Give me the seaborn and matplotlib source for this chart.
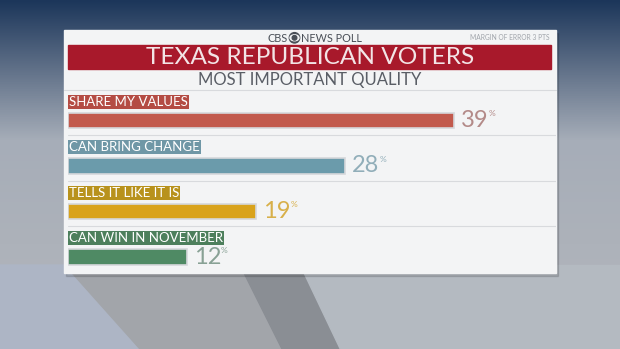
import numpy as np
import pandas as pd
import matplotlib
matplotlib.use("Agg")
import matplotlib.pyplot as plt
import seaborn as sns
from matplotlib.patches import Rectangle, Polygon, Circle, Ellipse

categories = ["SHARE MY VALUES", "CAN BRING CHANGE", "TELLS IT LIKE IT IS", "CAN WIN IN NOVEMBER"]
values = [39, 28, 19, 12]
bar_colors = ["#c25a4d", "#6b9bab", "#d9a31c", "#4f8a64"]
label_colors = ["#b44c44", "#6f97a6", "#b8921c", "#4d7f5c"]
value_colors = ["#b38a88", "#91aeb9", "#d8b04a", "#88a195"]

title = "TEXAS REPUBLICAN VOTERS"
subtitle = "MOST IMPORTANT QUALITY"
moe = "MARGIN OF ERROR 3 PTS"

W, H = 620, 349
sns.set_theme(style="white")
plt.rcParams['font.family'] = ['Lato', 'DejaVu Sans']
fig = plt.figure(figsize=(W / 100, H / 100), dpi=100)

def fx(x):
    return x / W

def fy(y):
    return 1 - y / H

# background studio gradient
bg = fig.add_axes([0, 0, 1, 1])
bg.set_xlim(0, W)
bg.set_ylim(H, 0)
bg.axis("off")
yy = np.linspace(0, 1, 200)[:, None]
top = np.array([0x1c, 0x36, 0x5a]) / 255
mid = np.array([0xa6, 0xad, 0xb8]) / 255
bot = np.array([0xb4, 0xb7, 0xbc]) / 255
t1 = np.clip(yy / 0.4, 0, 1)
t2 = np.clip((yy - 0.4) / 0.6, 0, 1)
grad = (top * (1 - t1) + mid * t1) * (yy < 0.4) + (mid * (1 - t2) + bot * t2) * (yy >= 0.4)
grad = np.repeat(grad[:, None, :], 2, axis=1).reshape(200, 2, 3)
bg.imshow(grad, extent=[0, W, H, 0], aspect="auto", zorder=0)
bg.add_patch(Polygon([[0, 265], [65, 265], [140, 349], [0, 349]], closed=True, color="#adb5c5", zorder=1))
bg.add_patch(Polygon([[65, 265], [240, 265], [282, 349], [140, 349]], closed=True, color="#a2a5aa", zorder=1))
bg.add_patch(Polygon([[240, 265], [300, 265], [340, 349], [282, 349]], closed=True, color="#8a8e94", zorder=1))
bg.add_patch(Polygon([[300, 265], [620, 265], [620, 349], [340, 349]], closed=True, color="#b4bac1", zorder=1))
bg.add_patch(Rectangle((66, 33), 492, 243, color="#000000", alpha=0.12, zorder=2))
bg.add_patch(Rectangle((64, 30), 492, 243, color="#f3f4f5", zorder=3))
bg.add_patch(Rectangle((68, 45), 483, 24, color="#a8192b", zorder=4))
bg.text(288, 38, "CBS", ha="right", va="center", fontsize=7.8, color="#4a4f57", zorder=5)
bg.add_patch(Circle((294.5, 37.8), 5.2, color="#4a4f57", zorder=5))
bg.add_patch(Ellipse((294.5, 37.8), 9, 6, color="#f3f4f5", zorder=6))
bg.add_patch(Circle((294.5, 37.8), 2.3, color="#4a4f57", zorder=7))
bg.text(301, 38, "NEWS POLL", ha="left", va="center", fontsize=7.8, color="#4a4f57", zorder=5)
bg.text(550, 38, moe, ha="right", va="center", fontsize=4.8, color="#a0a4aa", zorder=5)
bg.text(310, 57.5, title, ha="center", va="center", fontsize=17.6, color="#f3e4e6", zorder=5)
bg.text(310, 80, subtitle, ha="center", va="center", fontsize=12, color="#5a5e66", zorder=5)
bg.plot([64, 556], [90, 90], color="#d8dadd", lw=0.8, zorder=5)

# bar axes
ax = fig.add_axes([fx(68), fy(272), (556 - 68) / W, (272 - 92) / H])
ax.patch.set_alpha(0)
df = pd.DataFrame({"category": categories, "value": values})
sns.barplot(data=df, x="value", y="category", hue="category", palette=bar_colors,
            width=0.33, legend=False, ax=ax, edgecolor="#d6d8db", linewidth=1.2, saturation=1)
units = 45.5
top_u = -(120.5 - 92) / units
ax.set_ylim(top_u + 180 / units, top_u)
ax.set_xlim(0, (556 - 68) / 9.9)
ax.axis("off")
for i in range(3):
    ax.axhline(i + 0.32, color="#d8dadd", lw=0.8)
for i, (c, v) in enumerate(zip(categories, values)):
    ax.text(0.1, i - 0.41, c, ha="left", va="center", fontsize=9.5, color="white",
            bbox=dict(boxstyle="square,pad=0.08", fc=label_colors[i], ec="none"))
    ax.annotate(f"{v}", (v, i), xytext=(5, 0), textcoords="offset points", ha="left", va="center",
                fontsize=17, color=value_colors[i])
    ax.annotate("%", (v, i), xytext=(24.5, 5), textcoords="offset points", ha="left", va="center",
                fontsize=6, color=value_colors[i])

fig.savefig("out.png", dpi=100)
